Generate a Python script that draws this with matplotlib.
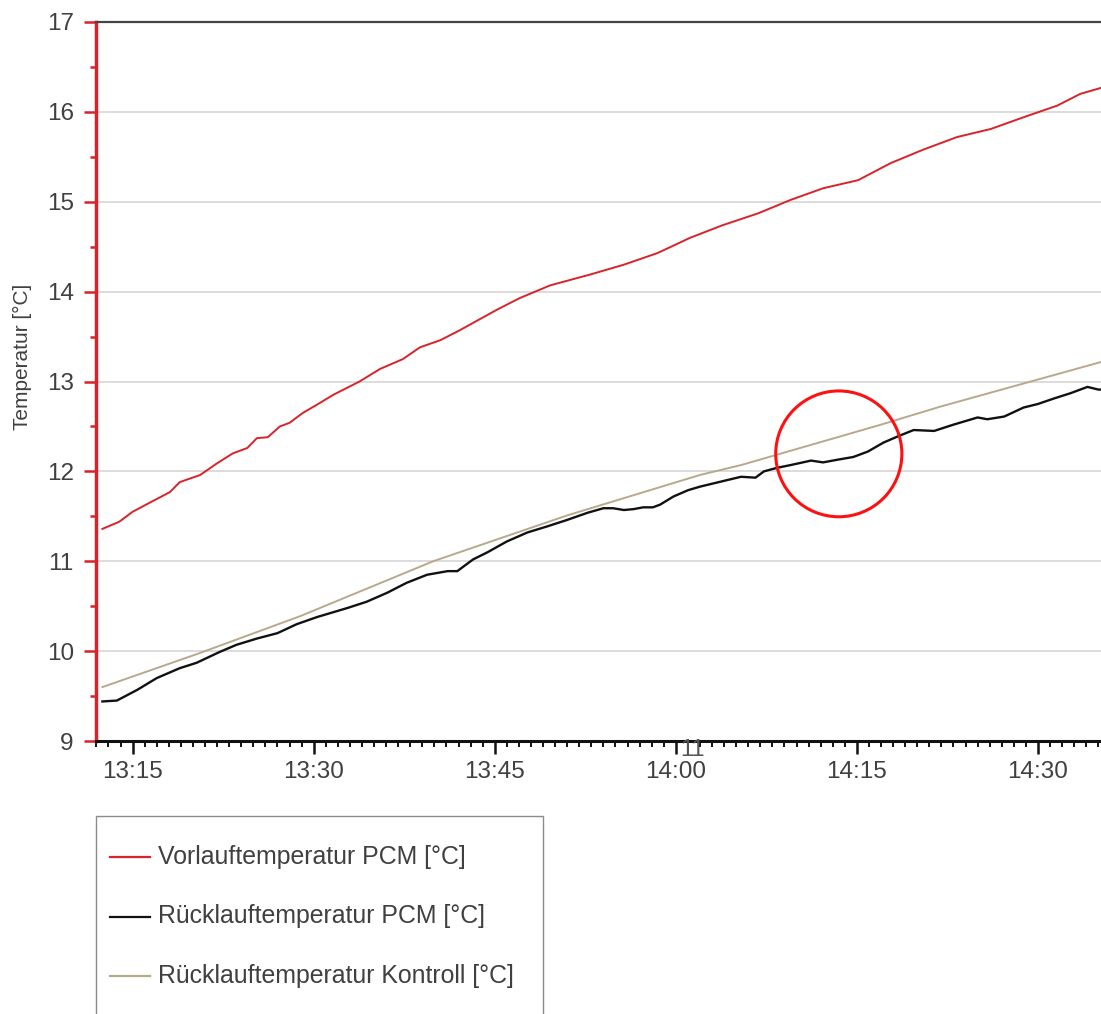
import numpy as np
import pandas as pd
import matplotlib
matplotlib.use("Agg")
import matplotlib.pyplot as plt
import matplotlib.dates as mdates
from matplotlib.patches import Ellipse, Rectangle
from matplotlib.lines import Line2D

plt.rcParams['font.family'] = ['Liberation Sans', 'DejaVu Sans']

# ---------- data (minutes after 13:00, temperature in degC) ----------
vorlauf_min = [12.5, 13.9, 15.0, 16.4, 18.1, 18.9, 20.6, 22.0, 23.3, 24.5, 25.3, 26.2,
               27.2, 28.0, 29.1, 30.5, 31.6, 33.8, 35.5, 37.4, 38.8, 40.5, 42.1, 45.2,
               47.1, 49.6, 52.9, 55.7, 58.5, 61.2, 63.9, 66.8, 69.5, 72.2, 75.1, 77.8,
               80.5, 83.3, 86.1, 88.8, 91.6, 93.5, 95.3]
vorlauf_val = [11.36, 11.44, 11.55, 11.65, 11.77, 11.88, 11.96, 12.09, 12.20, 12.26, 12.37, 12.38,
               12.50, 12.54, 12.65, 12.76, 12.85, 13.00, 13.14, 13.25, 13.38, 13.46, 13.57, 13.80,
               13.93, 14.07, 14.19, 14.30, 14.43, 14.60, 14.74, 14.87, 15.02, 15.15, 15.24, 15.43,
               15.58, 15.72, 15.81, 15.94, 16.07, 16.20, 16.27]

ruecklauf_min = [12.5, 13.7, 15.4, 17.0, 18.9, 20.3, 22.2, 23.6, 25.3, 27.0, 28.6, 30.3,
                 32.8, 34.4, 36.1, 37.7, 39.4, 41.1, 41.9, 43.2, 44.4, 46.0, 47.7, 49.4,
                 51.0, 52.7, 54.0, 54.8, 55.7, 56.5, 57.3, 58.1, 58.7, 59.8, 61.0, 62.0,
                 65.4, 66.6, 67.3, 68.4, 69.5, 71.2, 72.2, 73.4, 74.7, 75.9, 77.2, 78.4,
                 79.7, 81.4, 83.0, 85.0, 85.8, 87.2, 88.8, 90.0, 91.3, 92.7, 94.1, 95.0, 95.3]
ruecklauf_val = [9.44, 9.45, 9.57, 9.70, 9.81, 9.87, 9.99, 10.07, 10.14, 10.20, 10.30, 10.38,
                 10.48, 10.55, 10.65, 10.76, 10.85, 10.89, 10.89, 11.02, 11.10, 11.22, 11.32, 11.39,
                 11.46, 11.54, 11.59, 11.59, 11.57, 11.58, 11.60, 11.60, 11.63, 11.72, 11.79, 11.83,
                 11.94, 11.93, 12.00, 12.04, 12.07, 12.12, 12.10, 12.13, 12.16, 12.22, 12.32, 12.39,
                 12.46, 12.45, 12.52, 12.60, 12.58, 12.61, 12.71, 12.75, 12.81, 12.87, 12.94, 12.91, 12.91]

kontroll_min = [12.5, 20.6, 28.9, 39.9, 51.0, 62.0, 65.4, 77.0, 81.9, 95.3]
kontroll_val = [9.60, 9.98, 10.39, 11.00, 11.51, 11.96, 12.07, 12.52, 12.72, 13.22]

labels = ['Vorlauftemperatur PCM [°C]', 'Rücklauftemperatur PCM [°C]',
          'Rücklauftemperatur Kontroll [°C]']
colors = ['#d8232a', '#111111', '#b8a88e']
widths = [1.4, 1.7, 1.4]

base = pd.Timestamp('2020-01-01 13:00')


def to_time(minutes):
    return base + pd.to_timedelta(np.array(minutes), unit='min')


series = [(to_time(vorlauf_min), vorlauf_val),
          (to_time(ruecklauf_min), ruecklauf_val),
          (to_time(kontroll_min), kontroll_val)]

# ---------- figure ----------
W, H = 1101, 1014
fig = plt.figure(figsize=(W / 100, H / 100), dpi=100)
ax = fig.add_axes([96 / W, 1 - 741 / H, 1005 / W, 719 / H])

for (t, v), c, lw in zip(series, colors, widths):
    ax.plot(t, v, color=c, lw=lw, zorder=3)

ax.set_ylim(9, 17)
ax.set_xlim(to_time([11.97])[0], to_time([95.22])[0])

ax.set_yticks(range(9, 18))
ax.set_yticks(np.arange(9.5, 17, 1.0), minor=True)
ax.yaxis.grid(True, which='major', color='#d9d9d9', lw=1.3)
ax.set_axisbelow(True)

ax.xaxis.set_major_locator(mdates.MinuteLocator(byminute=[0, 15, 30, 45]))
ax.xaxis.set_minor_locator(mdates.MinuteLocator())
ax.xaxis.set_major_formatter(mdates.DateFormatter('%H:%M'))

ax.spines['right'].set_visible(False)
ax.spines['left'].set_color('#d8232a')
ax.spines['left'].set_linewidth(2.5)
ax.spines['bottom'].set_color('#111111')
ax.spines['bottom'].set_linewidth(2.2)
ax.spines['top'].set_color('#444444')
ax.spines['top'].set_linewidth(1.6)

ax.tick_params(axis='y', which='major', length=9, width=1.8, color='#d8232a',
               labelsize=17.5, labelcolor='#404040', pad=7)
ax.tick_params(axis='y', which='minor', length=4.5, width=1.8, color='#d8232a')
ax.tick_params(axis='x', which='major', length=9.5, width=1.8, color='#111111',
               labelsize=17.5, labelcolor='#404040', pad=5)
ax.tick_params(axis='x', which='minor', length=4, width=1.4, color='#111111')

fig.text(22 / W, 1 - 357 / H, 'Temperatur [°C]', rotation=90, ha='center', va='center',
         fontsize=15, color='#404040')

# stray label in the original export
fig.text(693 / W, 1 - 750 / H, '11', ha='center', va='center', fontsize=17, color='#555555')

# hand drawn marker circle
ax.add_patch(Ellipse((mdates.date2num(to_time([73.5])[0]), 12.195),
                     width=10.45 / 1440, height=1.40, fill=False,
                     edgecolor='#ff1010', lw=2.2, zorder=5))

# legend box below the plot
fig.add_artist(Rectangle((96 / W, 1 - 1020 / H), 447 / W, 204 / H, transform=fig.transFigure,
                         facecolor='white', edgecolor='#8c8c8c', lw=1.0))
for i, (lab, c) in enumerate(zip(labels, colors)):
    yy = 1 - (857 + i * 59.5) / H
    fig.add_artist(Line2D([110 / W, 150 / W], [yy, yy], transform=fig.transFigure,
                          color=c, lw=1.6))
    fig.text(158 / W, yy, lab, ha='left', va='center', fontsize=17.9, color='#404040')

fig.savefig('out.png', dpi=100)
